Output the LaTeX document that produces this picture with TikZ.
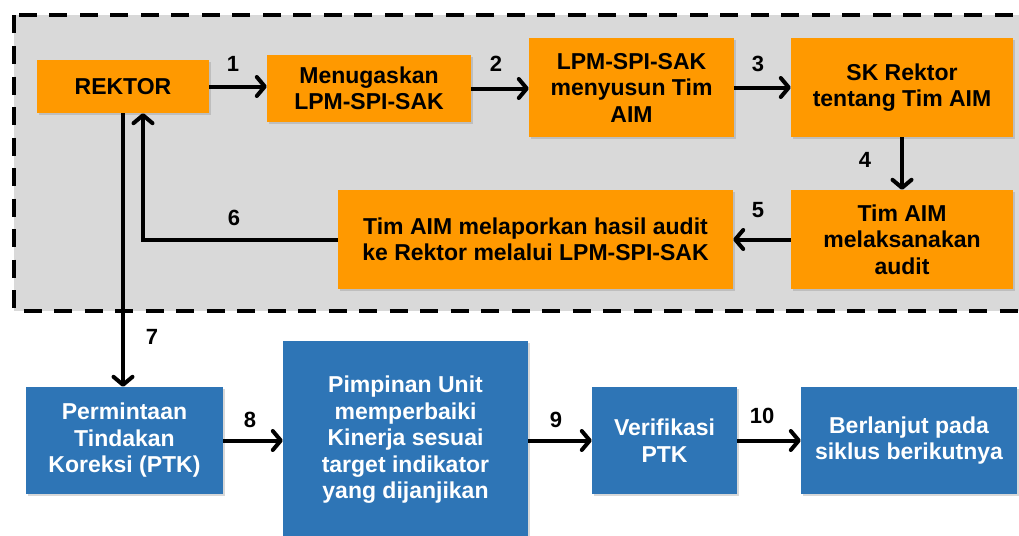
\documentclass[tikz,border=0pt]{standalone}
\usepackage{fontspec}
\setmainfont{Liberation Sans}
\usetikzlibrary{arrows.meta,shadows}
\definecolor{org}{HTML}{FF9900}
\definecolor{blu}{HTML}{2E75B6}
\definecolor{gry}{HTML}{D9D9D9}
\begin{document}
\begin{tikzpicture}[x=1pt,y=-1pt,
 box/.style={rectangle, inner sep=0pt, align=center, font=\fontsize{23}{26.5}\selectfont\bfseries,
   drop shadow={shadow xshift=2pt,shadow yshift=-2pt,opacity=0.3}},
 obox/.style={box,fill=org,text=black},
 bbox/.style={box,fill=blu,text=white},
 arr/.style={line width=4pt, line cap=butt, -{Straight Barb[length=8pt,width=19pt,round]}},
 num/.style={font=\fontsize{22}{22}\selectfont\bfseries, inner sep=0pt}
]
\useasboundingbox (0,0) rectangle (1019,535);
\fill[white] (0,0) rectangle (1019,535);
\draw[fill=gry, line width=4pt, dash pattern=on 18pt off 12.5pt] (14,15.5) rectangle (1026,311);

\node[obox, minimum width=172pt, minimum height=53pt] (rek) at (123,86.5) {REKTOR};
\node[obox, minimum width=204pt, minimum height=67pt] (men) at (369,88.5) {Menugaskan\\LPM-SPI-SAK};
\node[obox, minimum width=205pt, minimum height=99pt] (lpm) at (631.5,87.5) {LPM-SPI-SAK\\menyusun Tim\\AIM};
\node[obox, minimum width=222pt, minimum height=99pt] (sk) at (902,87.5) {SK Rektor\\tentang Tim AIM};
\node[obox, minimum width=222pt, minimum height=99pt] (tim) at (902,239.5) {Tim AIM\\melaksanakan\\audit};
\node[obox, minimum width=395pt, minimum height=99pt] (lap) at (535.5,239.5) {Tim AIM melaporkan hasil audit\\ke Rektor melalui LPM-SPI-SAK};

\node[bbox, minimum width=197pt, minimum height=107pt] (ptk) at (124.5,440.5) {Permintaan\\Tindakan\\Koreksi (PTK)};
\node[bbox, minimum width=245pt, minimum height=198pt] (pim) at (405.5,440) {Pimpinan Unit\\memperbaiki\\Kinerja sesuai\\target indikator\\yang dijanjikan};
\node[bbox, minimum width=145pt, minimum height=107pt] (ver) at (664.5,440.5) {Verifikasi\\PTK};
\node[bbox, minimum width=216pt, minimum height=107pt] (ber) at (909,440.5) {Berlanjut pada\\siklus berikutnya};

\draw[arr] (rek.east) -- (rek.east -| men.west);
\draw[arr] (men.east) -- (men.east -| lpm.west);
\draw[arr] (lpm.east) -- (sk.west);
\draw[arr] (sk.south) -- (tim.north);
\draw[arr] (tim.west) -- (lap.east);
\draw[arr] (lap.west) -| ([xshift=20pt]rek.south);
\draw[arr] (rek.south) -- (rek.south |- ptk.north);
\draw[arr] (ptk.east) -- (ptk.east -| pim.west);
\draw[arr] (ptk.east -| pim.east) -- (ver.west);
\draw[arr] (ver.east) -- (ber.west);

\node[num] (n1) at (233,64) {1};
\node[num] (n2) at (496,64) {2};
\node[num] (n3) at (758,64) {3};
\node[num] (n4) at (865,160) {4};
\node[num] (n5) at (758,210) {5};
\node[num] (n6) at (234,218) {6};
\node[num] (n7) at (152,337) {7};
\node[num] (n8) at (250,420) {8};
\node[num] (n9) at (556,420) {9};
\node[num] (n10) at (762,416) {10};
\end{tikzpicture}
\end{document}
